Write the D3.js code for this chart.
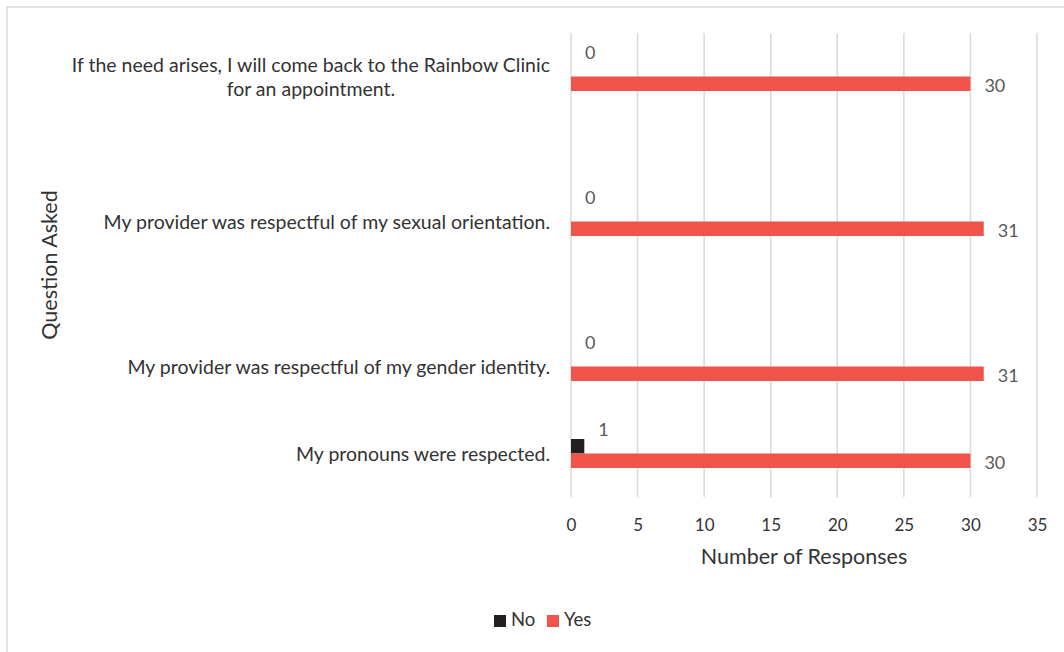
<!DOCTYPE html>
<html>
<head>
<meta charset="utf-8">
<script src="https://cdn.jsdelivr.net/npm/d3@7"></script>
<style>
  html, body { margin: 0; padding: 0; background: #fff; }
  svg { display: block; }
  text { font-family: Lato, "Open Sans", sans-serif; }
</style>
</head>
<body>
<svg id="chart" width="1064" height="652"></svg>
<script>
// Survey sheet rows; blank rows keep the spacing between the questions.
const questions = [
  "",
  "If the need arises, I will come back to the Rainbow Clinic\nfor an appointment.",
  "", "", "", "",
  "My provider was respectful of my sexual orientation.",
  "", "", "", "",
  "My provider was respectful of my gender identity.",
  "", "",
  "My pronouns were respected.",
  ""
];
const noCounts  = [null, 0, null, null, null, null, 0, null, null, null, null, 0, null, null, 1, null];
const yesCounts = [null, 30, null, null, null, null, 31, null, null, null, null, 31, null, null, 30, null];
const seriesNames = ["No", "Yes"];
const xTicks = [0, 5, 10, 15, 20, 25, 30, 35];

const colors = { No: "#231f20", Yes: "#f0534a" };

const svg = d3.select("#chart");
const W = 1064, H = 652;
const plot = { left: 571, right: 1037, top: 33, bottom: 497 };

// outer chart frame (clipped at the right and bottom edges)
svg.append("path")
  .attr("d", `M7,${H}V7H${W}`)
  .attr("fill", "none")
  .attr("stroke", "#d9d9d9")
  .attr("stroke-width", 1.5);

const x = d3.scaleLinear().domain([0, 35]).range([plot.left, plot.right]);
const y = d3.scaleBand().domain(d3.range(questions.length))
  .range([plot.top, plot.bottom]).paddingInner(0).paddingOuter(0);
const ySub = d3.scaleBand().domain(seriesNames).range([0, y.bandwidth()]);

// vertical gridlines
svg.append("g")
  .selectAll("line")
  .data(xTicks)
  .join("line")
  .attr("x1", d => x(d)).attr("x2", d => x(d))
  .attr("y1", plot.top).attr("y2", plot.bottom)
  .attr("stroke", "#d9d9d9")
  .attr("stroke-width", 1.5);

// x axis tick labels
const xAxis = d3.axisBottom(x).tickValues(xTicks).tickSize(0).tickPadding(0);
const gx = svg.append("g")
  .attr("transform", `translate(0,${plot.bottom})`)
  .call(xAxis);
gx.select(".domain").remove();
gx.selectAll("text")
  .attr("dy", null)
  .attr("y", 34)
  .attr("fill", "#333")
  .style("font-size", "17px")
  .style("font-family", "Lato, sans-serif");

// rows with data
const rows = questions.map((q, i) => ({ i, q, No: noCounts[i], Yes: yesCounts[i] }))
  .filter(r => r.Yes !== null);

const groups = svg.append("g").selectAll("g")
  .data(rows)
  .join("g")
  .attr("transform", d => `translate(0,${y(d.i)})`);

groups.selectAll("rect")
  .data(d => seriesNames.map(s => ({ s, v: d[s] })))
  .join("rect")
  .attr("x", x(0))
  .attr("y", d => ySub(d.s))
  .attr("width", d => x(d.v) - x(0))
  .attr("height", ySub.bandwidth())
  .attr("fill", d => colors[d.s]);

// value labels
groups.selectAll("text.val")
  .data(d => seriesNames.map(s => ({ s, v: d[s] })))
  .join("text")
  .attr("class", "val")
  .attr("x", d => x(d.v) + 14)
  .attr("y", d => ySub(d.s) + ySub.bandwidth() / 2 + (d.s === "No" ? -15 : 4))
  .attr("dominant-baseline", "middle")
  .attr("fill", "#595959")
  .style("font-size", "18px")
  .text(d => d.v);

// question labels: block right-aligned to the axis, lines centred within the block
const labelRight = 550;
const qLabels = svg.append("g").selectAll("text")
  .data(rows)
  .join("text")
  .attr("fill", "#333")
  .style("font-size", "19.5px")
  .attr("transform", d => `translate(0,${y(d.i) + y.bandwidth() / 2 + 3})`);

qLabels.each(function (d) {
  const lines = d.q.split("\n");
  const lh = 24;
  const t = d3.select(this);
  const spans = lines.map((ln, k) => t.append("tspan")
    .attr("y", (k - (lines.length - 1) / 2) * lh)
    .attr("dominant-baseline", "middle")
    .text(ln));
  const widest = d3.max(spans, s => s.node().getComputedTextLength());
  t.attr("text-anchor", "middle");
  spans.forEach(s => s.attr("x", labelRight - widest / 2));
});

// axis titles
svg.append("text")
  .attr("x", (plot.left + plot.right) / 2)
  .attr("y", 559)
  .attr("text-anchor", "middle")
  .attr("dominant-baseline", "middle")
  .attr("fill", "#333")
  .style("font-size", "21.5px")
  .text("Number of Responses");

svg.append("text")
  .attr("transform", "translate(52,265) rotate(-90)")
  .attr("text-anchor", "middle")
  .attr("dominant-baseline", "middle")
  .attr("fill", "#333")
  .style("font-size", "21.5px")
  .text("Question Asked");

// legend
const legend = svg.append("g").attr("transform", "translate(494,621)");
const legendX = { No: 0, Yes: 53 };
seriesNames.forEach(s => {
  const g = legend.append("g").attr("transform", `translate(${legendX[s]},0)`);
  g.append("rect").attr("x", 0).attr("y", -6).attr("width", 12).attr("height", 12).attr("fill", colors[s]);
  g.append("text").attr("x", 17).attr("y", 0)
    .attr("dominant-baseline", "middle")
    .attr("fill", "#333")
    .style("font-size", "18.5px")
    .text(s);
});
</script>
</body>
</html>
